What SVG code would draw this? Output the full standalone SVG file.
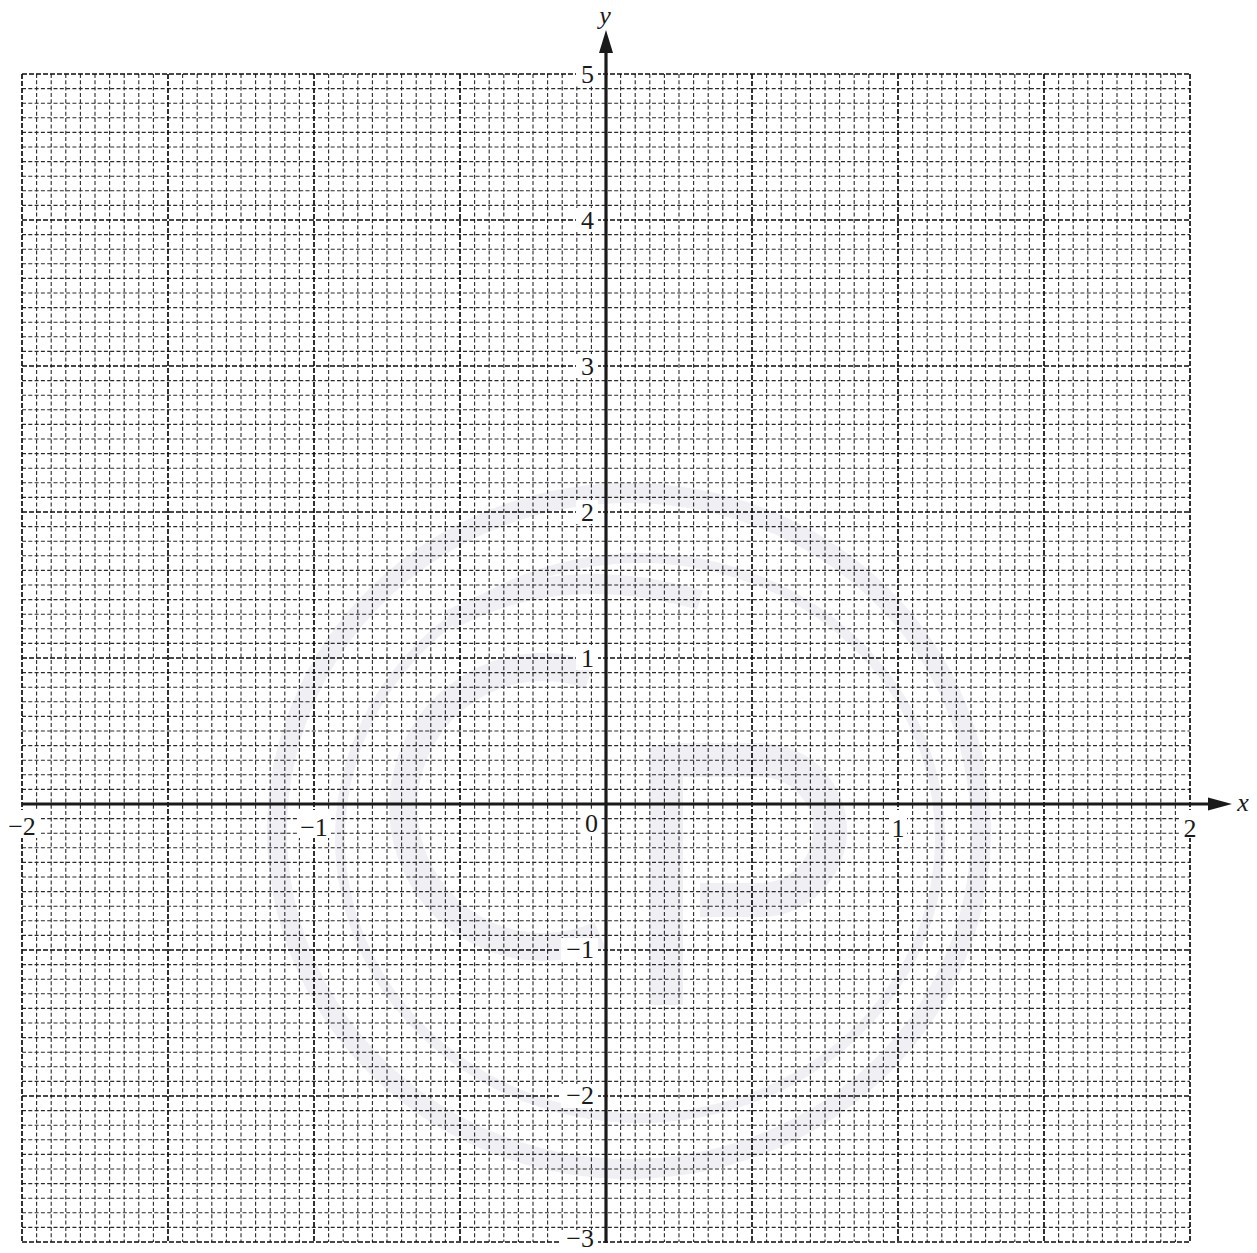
<svg xmlns="http://www.w3.org/2000/svg" width="1257" height="1253" viewBox="0 0 1257 1253">
<defs>
<style>
.minor{fill:none;stroke:#2a2a2a;stroke-width:1.1;stroke-dasharray:4 2.3}
.major{fill:none;stroke:#0d0d0d;stroke-width:1.7;stroke-dasharray:5 2}
.wm{fill:none;stroke:#efeff4}
.axis{stroke:#1a1a1a;stroke-width:3.2;fill:none}
.lbl{font-family:"Liberation Serif","DejaVu Serif",serif;font-size:26px;fill:#1a1a1a}
.var{font-family:"Liberation Serif","DejaVu Serif",serif;font-size:26px;font-style:italic;fill:#1a1a1a}
.bg{fill:#fff}
</style>
</defs>
<rect width="1257" height="1253" fill="#fff"/>
<g id="watermark">
<ellipse class="wm" cx="629" cy="831" rx="352" ry="338" stroke-width="20"/>
<ellipse class="wm" cx="640" cy="838" rx="300" ry="280" stroke-width="10"/>
<path class="wm" stroke-width="28" d="M 590 675 A 140 140 0 1 0 600 935"/>
<path class="wm" stroke-width="34" d="M 666 745 V 1005 M 666 760 H 760 A 70 70 0 0 1 760 900 H 700"/>
<path class="wm" stroke-width="20" d="M 450 620 Q 560 560 700 600"/>
</g>
<g id="grid">
<path class="minor" d="M36.6 74V1242M51.2 74V1242M65.8 74V1242M80.4 74V1242M95 74V1242M109.6 74V1242M124.2 74V1242M138.8 74V1242M153.4 74V1242M182.6 74V1242M197.2 74V1242M211.8 74V1242M226.4 74V1242M241 74V1242M255.6 74V1242M270.2 74V1242M284.8 74V1242M299.4 74V1242M328.6 74V1242M343.2 74V1242M357.8 74V1242M372.4 74V1242M387 74V1242M401.6 74V1242M416.2 74V1242M430.8 74V1242M445.4 74V1242M474.6 74V1242M489.2 74V1242M503.8 74V1242M518.4 74V1242M533 74V1242M547.6 74V1242M562.2 74V1242M576.8 74V1242M591.4 74V1242M620.6 74V1242M635.2 74V1242M649.8 74V1242M664.4 74V1242M679 74V1242M693.6 74V1242M708.2 74V1242M722.8 74V1242M737.4 74V1242M766.6 74V1242M781.2 74V1242M795.8 74V1242M810.4 74V1242M825 74V1242M839.6 74V1242M854.2 74V1242M868.8 74V1242M883.4 74V1242M912.6 74V1242M927.2 74V1242M941.8 74V1242M956.4 74V1242M971 74V1242M985.6 74V1242M1000.2 74V1242M1014.8 74V1242M1029.4 74V1242M1058.6 74V1242M1073.2 74V1242M1087.8 74V1242M1102.4 74V1242M1117 74V1242M1131.6 74V1242M1146.2 74V1242M1160.8 74V1242M1175.4 74V1242"/>
<path class="minor" d="M22 88.6H1190M22 103.2H1190M22 117.8H1190M22 132.4H1190M22 147H1190M22 161.6H1190M22 176.2H1190M22 190.8H1190M22 205.4H1190M22 234.6H1190M22 249.2H1190M22 263.8H1190M22 278.4H1190M22 293H1190M22 307.6H1190M22 322.2H1190M22 336.8H1190M22 351.4H1190M22 380.6H1190M22 395.2H1190M22 409.8H1190M22 424.4H1190M22 439H1190M22 453.6H1190M22 468.2H1190M22 482.8H1190M22 497.4H1190M22 526.6H1190M22 541.2H1190M22 555.8H1190M22 570.4H1190M22 585H1190M22 599.6H1190M22 614.2H1190M22 628.8H1190M22 643.4H1190M22 672.6H1190M22 687.2H1190M22 701.8H1190M22 716.4H1190M22 731H1190M22 745.6H1190M22 760.2H1190M22 774.8H1190M22 789.4H1190M22 818.6H1190M22 833.2H1190M22 847.8H1190M22 862.4H1190M22 877H1190M22 891.6H1190M22 906.2H1190M22 920.8H1190M22 935.4H1190M22 964.6H1190M22 979.2H1190M22 993.8H1190M22 1008.4H1190M22 1023H1190M22 1037.6H1190M22 1052.2H1190M22 1066.8H1190M22 1081.4H1190M22 1110.6H1190M22 1125.2H1190M22 1139.8H1190M22 1154.4H1190M22 1169H1190M22 1183.6H1190M22 1198.2H1190M22 1212.8H1190M22 1227.4H1190"/>
<path class="major" d="M22 74V1242M168 74V1242M314 74V1242M460 74V1242M752 74V1242M898 74V1242M1044 74V1242M1190 74V1242M22 74H1190M22 220H1190M22 366H1190M22 512H1190M22 658H1190M22 950H1190M22 1096H1190M22 1242H1190"/>
</g>
<g id="labels">
<rect class="bg" x="576" y="62" width="22" height="24"/>
<rect class="bg" x="576" y="208" width="22" height="24"/>
<rect class="bg" x="576" y="354" width="22" height="24"/>
<rect class="bg" x="576" y="500" width="22" height="24"/>
<rect class="bg" x="576" y="646" width="22" height="24"/>
<rect class="bg" x="561" y="938" width="37" height="24"/>
<rect class="bg" x="561" y="1084" width="37" height="24"/>
<rect class="bg" x="561" y="1230" width="37" height="23"/>
<rect class="bg" x="581" y="810" width="20" height="26"/>
<rect class="bg" x="5" y="810" width="36" height="28"/>
<rect class="bg" x="297" y="810" width="34" height="28"/>
<rect class="bg" x="889" y="810" width="18" height="28"/>
<rect class="bg" x="1180" y="810" width="20" height="28"/>
<text class="lbl" x="594" y="83" text-anchor="end">5</text>
<text class="lbl" x="594" y="229" text-anchor="end">4</text>
<text class="lbl" x="594" y="375" text-anchor="end">3</text>
<text class="lbl" x="594" y="521" text-anchor="end">2</text>
<text class="lbl" x="594" y="667" text-anchor="end">1</text>
<text class="lbl" x="594" y="958" text-anchor="end">−1</text>
<text class="lbl" x="594" y="1104" text-anchor="end">−2</text>
<text class="lbl" x="594" y="1247" text-anchor="end">−3</text>
<text class="lbl" x="598" y="832" text-anchor="end">0</text>
<text class="lbl" x="22" y="835" text-anchor="middle">−2</text>
<text class="lbl" x="314" y="836" text-anchor="middle">−1</text>
<text class="lbl" x="898" y="837" text-anchor="middle">1</text>
<text class="lbl" x="1190" y="837" text-anchor="middle">2</text>
</g>
<g id="axes">
<path class="axis" d="M22 804H1210"/>
<path class="axis" d="M606 1243V50"/>
<polygon points="1232,804 1208,797.5 1208,810.5" fill="#1a1a1a"/>
<polygon points="606,30 599,53 613,53" fill="#1a1a1a"/>
<text class="var" x="605" y="24" text-anchor="middle">y</text>
<text class="var" x="1243" y="811" text-anchor="middle">x</text>
</g>
</svg>
